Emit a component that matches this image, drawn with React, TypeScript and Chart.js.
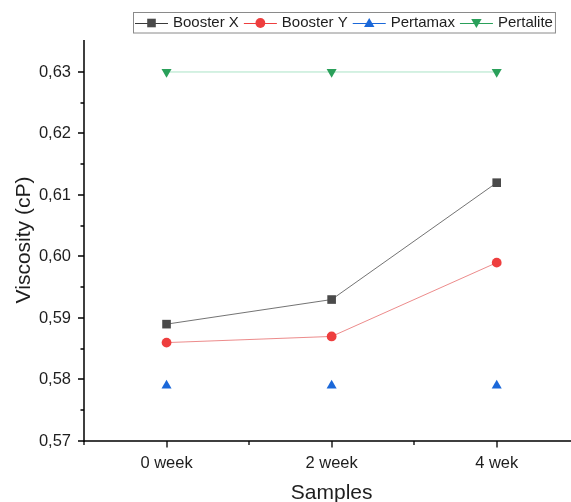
import React, { useEffect, useRef } from "react";
import { Chart, registerables } from "chart.js";
Chart.register(...registerables);

const categories = ["0 week", "2 week", "4 wek"];
const boosterX = [0.589, 0.593, 0.612];
const boosterY = [0.586, 0.587, 0.599];
const pertamax = [0.579, 0.579, 0.579];
const pertalite = [0.63, 0.63, 0.63];
const yTickValues = [0.57, 0.58, 0.59, 0.6, 0.61, 0.62, 0.63];
const yMinorValues = [0.575, 0.585, 0.595, 0.605, 0.615, 0.625];
const xMinorValues = [-0.5, 0.5, 1.5, 2.5];
const seriesNames = ["Booster X", "Booster Y", "Pertamax", "Pertalite"];

const FONT = "'Liberation Sans', Arial, sans-serif";
const TEXT = "#1e1e1e";

const markerColors = ["#4a4a4a", "#ee3e3e", "#1b68d9", "#2aa05a"];
const lineColors = ["rgba(90,90,90,0.85)", "rgba(230,100,100,0.75)", "rgba(0,0,0,0)", "rgba(150,220,185,0.8)"];
const legendLineColors = ["#3a3a3a", "#ee3e3e", "#1b68d9", "#2aa05a"];
const markerKinds = ["square", "circle", "up", "down"];

function drawMarker(ctx: CanvasRenderingContext2D, kind: string, x: number, y: number, color: string) {
  ctx.save();
  ctx.fillStyle = color;
  ctx.beginPath();
  if (kind === "square") {
    ctx.rect(x - 4.3, y - 4.3, 8.6, 8.6);
  } else if (kind === "circle") {
    ctx.arc(x, y, 4.9, 0, Math.PI * 2);
  } else if (kind === "up") {
    ctx.moveTo(x, y - 5);
    ctx.lineTo(x + 5.2, y + 4);
    ctx.lineTo(x - 5.2, y + 4);
    ctx.closePath();
  } else {
    ctx.moveTo(x, y + 5);
    ctx.lineTo(x + 5.2, y - 4);
    ctx.lineTo(x - 5.2, y - 4);
    ctx.closePath();
  }
  ctx.fill();
  ctx.restore();
}

const axesPlugin = {
  id: "originAxes",
  beforeDatasetsDraw(chart: any) {
    const ctx: CanvasRenderingContext2D = chart.ctx;
    const xs = chart.scales.x;
    const ys = chart.scales.y;
    const { left, right, top, bottom } = chart.chartArea;
    ctx.save();
    ctx.strokeStyle = "#000";
    ctx.lineWidth = 1.5;
    ctx.beginPath();
    ctx.moveTo(left, top);
    ctx.lineTo(left, bottom + 1);
    ctx.moveTo(left - 0.75, bottom);
    ctx.lineTo(right, bottom);
    ctx.stroke();

    ctx.lineWidth = 1.3;
    ctx.beginPath();
    yTickValues.forEach((v) => {
      const py = Math.round(ys.getPixelForValue(v));
      ctx.moveTo(left, py);
      ctx.lineTo(left - 6, py);
    });
    yMinorValues.forEach((v) => {
      const py = Math.round(ys.getPixelForValue(v));
      ctx.moveTo(left, py);
      ctx.lineTo(left - 3.5, py);
    });
    categories.forEach((_, i) => {
      const px = Math.round(xs.getPixelForValue(i));
      ctx.moveTo(px, bottom);
      ctx.lineTo(px, bottom + 6.5);
    });
    xMinorValues.forEach((v) => {
      const px = Math.round(xs.getPixelForValue(v));
      ctx.moveTo(px, bottom);
      ctx.lineTo(px, bottom + 4);
    });
    ctx.stroke();

    ctx.fillStyle = TEXT;
    ctx.font = `16.5px ${FONT}`;
    ctx.textAlign = "right";
    ctx.textBaseline = "middle";
    yTickValues.forEach((v) => {
      const py = ys.getPixelForValue(v);
      ctx.fillText(v.toFixed(2).replace(".", ","), left - 13, py);
    });
    ctx.textAlign = "center";
    categories.forEach((c, i) => {
      const px = xs.getPixelForValue(i);
      ctx.fillText(c, px, bottom + 22);
    });

    ctx.font = `21px ${FONT}`;
    ctx.fillText("Samples", (xs.getPixelForValue(0) + xs.getPixelForValue(2)) / 2, bottom + 52);
    ctx.save();
    ctx.translate(24, 240);
    ctx.rotate(-Math.PI / 2);
    ctx.fillText("Viscosity (cP)", 0, 0);
    ctx.restore();
    ctx.restore();
  },
  afterDraw(chart: any) {
    const ctx: CanvasRenderingContext2D = chart.ctx;
    ctx.save();
    ctx.font = `15px ${FONT}`;
    const boxLeft = 133, boxTop = 12.5, boxBottom = 33;
    const cy = 23;
    let x = boxLeft + 2;
    seriesNames.forEach((name, i) => {
      ctx.strokeStyle = legendLineColors[i];
      ctx.lineWidth = 1.2;
      ctx.beginPath();
      ctx.moveTo(x, cy + 0.5);
      ctx.lineTo(x + 33, cy + 0.5);
      ctx.stroke();
      drawMarker(ctx, markerKinds[i], x + 16.5, cy, markerColors[i]);
      ctx.fillStyle = TEXT;
      ctx.textAlign = "left";
      ctx.textBaseline = "middle";
      ctx.fillText(name, x + 38, cy);
      x += 38 + ctx.measureText(name).width + 5;
    });
    const boxRight = x - 3;
    ctx.strokeStyle = "#8a8a8a";
    ctx.lineWidth = 1;
    ctx.strokeRect(boxLeft + 0.5, boxTop, boxRight - boxLeft, boxBottom - boxTop);
    ctx.restore();
  },
};

export default function App() {
  const ref = useRef<HTMLCanvasElement | null>(null);
  useEffect(() => {
    if (!ref.current) return;
    const series = [boosterX, boosterY, pertamax, pertalite];
    const chart = new Chart(ref.current, {
      type: "line",
      data: {
        datasets: series.map((vals, i) => ({
          label: seriesNames[i],
          data: vals.map((v, k) => ({ x: k, y: v })),
          borderColor: lineColors[i],
          borderWidth: 1,
          showLine: i !== 2,
          pointStyle: i === 0 ? "rect" : i === 1 ? "circle" : "triangle",
          rotation: i === 3 ? 180 : 0,
          pointRadius: i === 0 ? 6.1 : i === 1 ? 4.9 : 5.8,
          pointBackgroundColor: markerColors[i],
          pointBorderColor: markerColors[i],
          pointBorderWidth: 0,
          pointHoverRadius: 5,
        })),
      },
      options: {
        animation: false,
        responsive: false,
        devicePixelRatio: 1,
        events: [],
        layout: { autoPadding: false, padding: { left: 84, right: 0, top: 40, bottom: 61 } },
        plugins: { legend: { display: false }, tooltip: { enabled: false }, title: { display: false } },
        scales: {
          x: { type: "linear", min: -0.5, max: 2.45, display: false },
          y: { type: "linear", min: 0.57, max: 0.6352, display: false },
        },
      },
      plugins: [axesPlugin],
    });
    return () => chart.destroy();
  }, []);
  return (
    <div style={{ position: "fixed", left: 0, top: 0, width: 571, height: 502, background: "#fff" }}>
      <canvas ref={ref} width={571} height={502} style={{ width: 571, height: 502, display: "block" }} />
    </div>
  );
}
